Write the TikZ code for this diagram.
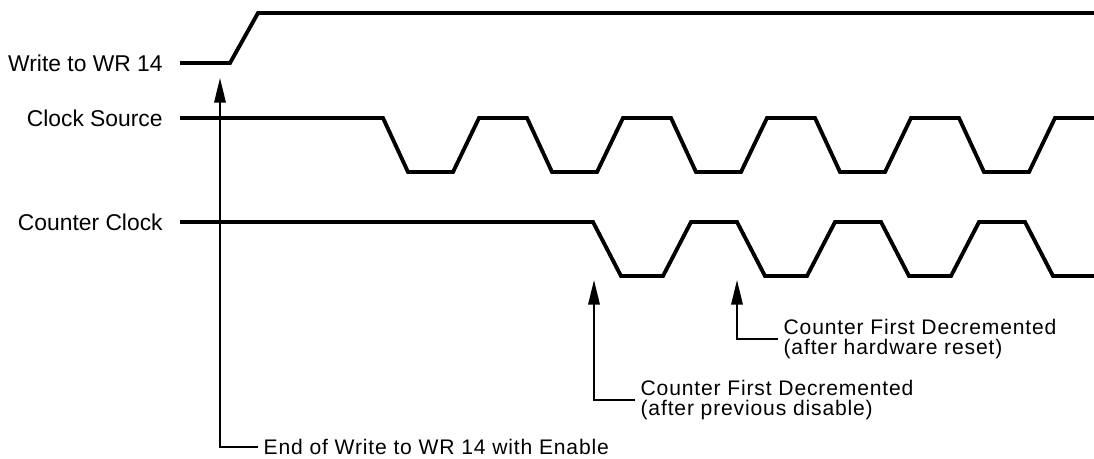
\documentclass[tikz,border=0pt]{standalone}
\usepackage{fontspec}
\setmainfont{Liberation Sans}
\usepackage{tikz}
\usetikzlibrary{arrows.meta}

\begin{document}
\begin{tikzpicture}[x=0.02cm,y=-0.02cm,
  wave/.style={line width=2.2pt,line join=miter},
  pointer/.style={line width=1.1pt,-{Triangle[length=14pt,width=6.5pt]}},
  sig/.style={font=\fontsize{13}{15}\selectfont,anchor=east,inner sep=0pt},
  note/.style={font=\fontsize{12}{11.8}\selectfont\addfontfeature{LetterSpace=4},
    align=left,anchor=west,inner sep=3pt}]
  \useasboundingbox (0,0) rectangle (1094,459);
  \node[sig] (wrlbl) at (163,63) {Write to WR 14};
  \node[sig] (srclbl) at (163,118) {Clock Source};
  \node[sig] (cntlbl) at (163,222) {Counter Clock};
  \draw[wave] (180,63) -- (230,63) -- (258,13) -- (1094,13);
  \draw[wave] (180,118) foreach \k in {0,...,4} {
      -- ({383+144*\k},118) -- ({408+144*\k},172)
      -- ({453+144*\k},172) -- ({479+144*\k},118)} -- (1094,118);
  \draw[wave] (180,222) foreach \k in {0,...,2} {
      -- ({593+144*\k},222) -- ({621+144*\k},276)
      -- ({663+144*\k},276) -- ({691+144*\k},222)}
      -- (1025,222) -- (1053,276) -- (1094,276);
  \coordinate (wrtip) at (220,78);
  \coordinate (prevtip) at (594,280);
  \coordinate (hwtip) at (737,280);
  \node[note] (endnote) at (258,447) {End of Write to WR 14 with Enable};
  \node[note] (prevnote) at (635,400)
    {Counter First Decremented\\(after previous disable)};
  \node[note] (hwnote) at (778,339)
    {Counter First Decremented\\(after hardware reset)};
  \draw[pointer] (endnote.west) -| (wrtip);
  \draw[pointer] (prevnote.west) -| (prevtip);
  \draw[pointer] (hwnote.west) -| (hwtip);
\end{tikzpicture}
\end{document}
